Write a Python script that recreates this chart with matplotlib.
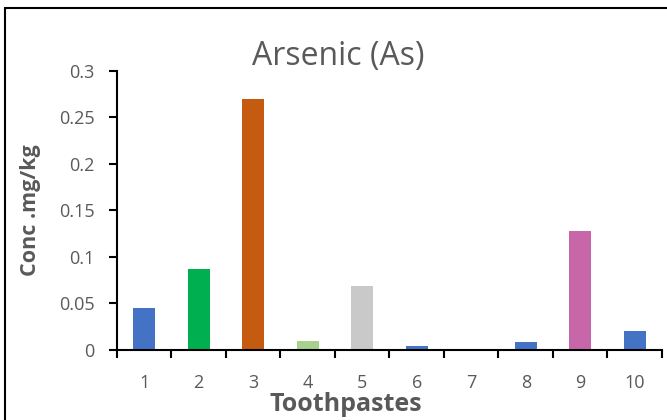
import matplotlib
matplotlib.use("Agg")
import matplotlib.pyplot as plt
from matplotlib.patches import Rectangle

categories = ["1", "2", "3", "4", "5", "6", "7", "8", "9", "10"]
values = [0.045, 0.087, 0.27, 0.01, 0.069, 0.004, 0.0005, 0.009, 0.128, 0.02]
colors = ["#4472C4", "#00B050", "#C55A11", "#A9D18E", "#C9C9C9",
          "#4472C4", "#4472C4", "#4472C4", "#C767AA", "#4472C4"]
yticks = [0, 0.05, 0.1, 0.15, 0.2, 0.25, 0.3]
ytick_labels = ["0", "0.05", "0.1", "0.15", "0.2", "0.25", "0.3"]

plt.rcParams['font.family'] = ['Open Sans', 'DejaVu Sans']
gray = "#595959"

fig = plt.figure(figsize=(6.67, 4.2), dpi=100)
ax = fig.add_axes([0.1754, 0.1667, 0.8171, 0.6643])

x = list(range(len(categories)))
ax.bar(x, values, width=0.4, color=colors)
ax.set_xlim(-0.5, len(categories) - 0.5)
ax.set_ylim(0, 0.3)
ax.set_yticks(yticks)
ax.set_yticklabels(ytick_labels)
ax.set_xticks(x)
ax.set_xticklabels(categories)
ax.set_xticks([i - 0.5 for i in range(len(categories) + 1)], minor=True)
ax.tick_params(axis='x', which='major', length=0, pad=17, labelsize=13, labelcolor=gray)
ax.tick_params(axis='x', which='minor', length=6, width=1.5, color='black', direction='out')
ax.tick_params(axis='y', length=6, width=1.5, color='black', direction='out', labelsize=13, labelcolor=gray, pad=10)
for s in ['top', 'right']:
    ax.spines[s].set_visible(False)
for s in ['left', 'bottom']:
    ax.spines[s].set_linewidth(1.5)
    ax.spines[s].set_color('black')

fig.text(0.507, 0.865, "Arsenic (As)", ha='center', va='center', fontsize=23, color=gray)
fig.text(0.519, 0.038, "Toothpastes", ha='center', va='center', fontsize=18, fontweight='bold', color=gray)
fig.text(0.046, 0.5, "Conc .mg/kg", ha='center', va='center', fontsize=15.5, fontweight='bold', color=gray, rotation=90)

fig.patches.append(Rectangle((5/667, -0.1), 1.2, 1 - 8/420 + 0.1, transform=fig.transFigure,
                             fill=False, edgecolor='black', linewidth=1.5))

fig.savefig("out.png", dpi=100)
